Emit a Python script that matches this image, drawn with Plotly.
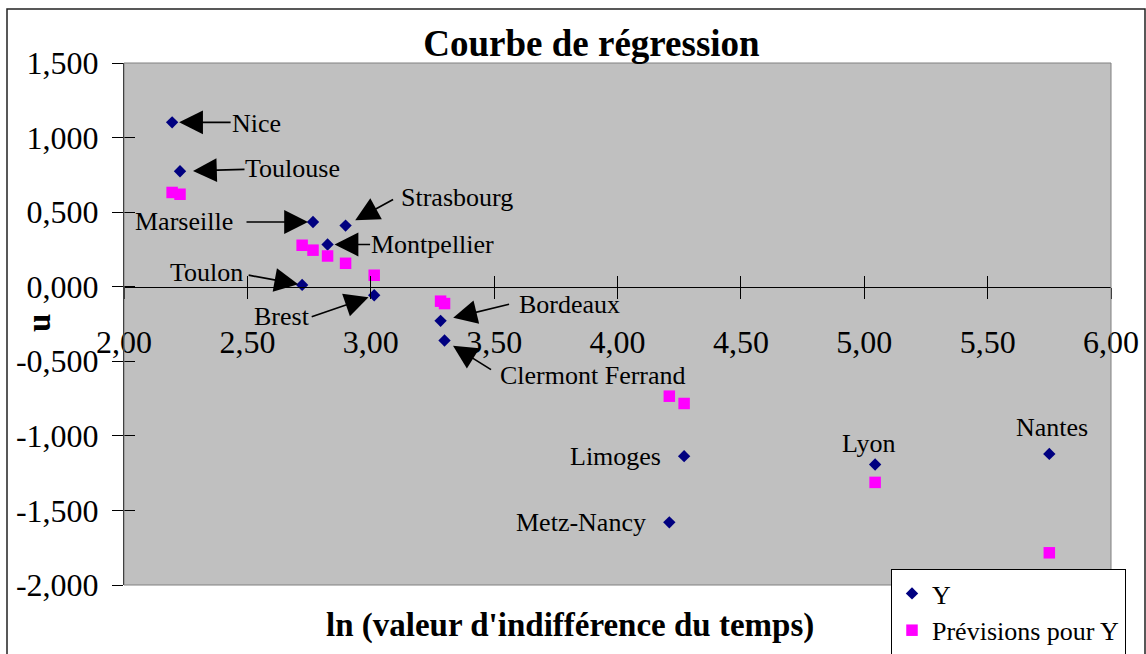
import plotly.graph_objects as go

# ---- data -------------------------------------------------------------
cities = ["Nice", "Toulouse", "Marseille", "Strasbourg", "Montpellier", "Toulon",
          "Brest", "Bordeaux", "Clermont Ferrand", "Limoges", "Metz-Nancy",
          "Lyon", "Nantes"]
ln_valeur = [2.195, 2.227, 2.766, 2.898, 2.825, 2.722, 3.014, 3.283, 3.299,
             4.270, 4.210, 5.044, 5.750]
y_obs = [1.102, 0.774, 0.434, 0.410, 0.283, 0.012, -0.057, -0.229, -0.361,
         -1.136, -1.580, -1.192, -1.121]
y_prev = [0.632, 0.620, 0.245, 0.157, 0.206, 0.278, 0.077, -0.097, -0.113,
          -0.783, -0.734, -1.312, -1.784]

x_tick_vals = [2.0, 2.5, 3.0, 3.5, 4.0, 4.5, 5.0, 5.5, 6.0]
x_tick_text = ["2,00", "2,50", "3,00", "3,50", "4,00", "4,50", "5,00", "5,50", "6,00"]
y_tick_vals = [-2.0, -1.5, -1.0, -0.5, 0.0, 0.5, 1.0, 1.5]
y_tick_text = ["-2,000", "-1,500", "-1,000", "-0,500", "0,000", "0,500", "1,000", "1,500"]

# ---- label placement (screen-pixel offsets from each Y point) ----------
label_offsets = {
    "Nice": (84, 1), "Toulouse": (112, -3), "Marseille": (-129, 0),
    "Strasbourg": (111, -28), "Montpellier": (105, 0), "Toulon": (-96, -12),
    "Brest": (-92, 21), "Bordeaux": (129, -16), "Clermont Ferrand": (148, 35),
    "Limoges": (-69, 0), "Metz-Nancy": (-88, 0), "Lyon": (-7, -21),
    "Nantes": (3, -26),
}
# arrow tail offset and standoff
arrow_specs = {
    "Nice": (60, 0, 7), "Toulouse": (66, -2, 13), "Marseille": (-68, 0, 5),
    "Strasbourg": (49, -27, 11), "Montpellier": (44, 0, 7),
    "Toulon": (-55, -10, 4), "Brest": (-64, 22, 6), "Bordeaux": (70, -17, 13),
    "Clermont Ferrand": (48, 30, 10),
}

SERIF = "Liberation Serif"
W, H = 1146, 654
ML, MR, MT, MB = 124, 35, 63, 69
PW, PH = W - ML - MR, H - MT - MB


def px_x(p):
    return (p - ML) / PW


def px_y(p):
    return (H - MB - p) / PH


fig = go.Figure()

fig.add_trace(go.Scatter(
    x=ln_valeur, y=y_obs, mode="markers", name="Y",
    marker=dict(symbol="diamond", color="#000080", size=9.5, line=dict(width=0)),
))
fig.add_trace(go.Scatter(
    x=ln_valeur, y=y_prev, mode="markers", name="Prévisions pour Y",
    marker=dict(symbol="square", color="#FF00FF", size=11.5, line=dict(width=0)),
))
# empty traces so the helper axes (cross ticks, axis at y = 0) get drawn
for xa, ya in (("x2", "y"), ("x3", "y"), ("x", "y2")):
    fig.add_trace(go.Scatter(x=[], y=[], xaxis=xa, yaxis=ya, showlegend=False,
                             hoverinfo="skip"))

annotations = []
for name, xv, yv in zip(cities, ln_valeur, y_obs):
    dx, dy = label_offsets[name]
    annotations.append(dict(
        x=xv, y=yv, xref="x", yref="y", text=name, showarrow=False,
        xshift=dx, yshift=-dy, xanchor="center", yanchor="middle",
        font=dict(family=SERIF, size=26, color="black"),
    ))
    if name in arrow_specs:
        ax, ay, so = arrow_specs[name]
        annotations.append(dict(
            x=xv, y=yv, xref="x", yref="y", text="", showarrow=True,
            ax=ax, ay=ay, axref="pixel", ayref="pixel",
            arrowhead=2, arrowsize=2.8, arrowwidth=1.7, arrowcolor="black",
            standoff=so,
        ))

# axis titles
annotations.append(dict(
    x=px_x(570), y=px_y(625), xref="paper", yref="paper",
    text="<b>ln (valeur d'indifférence du temps)</b>", showarrow=False,
    xanchor="center", yanchor="middle",
    font=dict(family=SERIF, size=33, color="black"),
))
annotations.append(dict(
    x=px_x(39), y=px_y(323), xref="paper", yref="paper",
    text="<b>u</b>", showarrow=False, textangle=-90,
    xanchor="center", yanchor="middle",
    font=dict(family=SERIF, size=33, color="black"),
))

shapes = [
    # plot area frame
    dict(type="rect", xref="paper", yref="paper", x0=0, x1=1, y0=0, y1=1,
         line=dict(color="#808080", width=1), layer="above"),
    # outer chart frame
    dict(type="rect", xref="paper", yref="paper",
         x0=px_x(7), x1=px_x(1145), y0=px_y(700), y1=px_y(9),
         line=dict(color="#222222", width=1.5), layer="above"),
]

tick_font = dict(family=SERIF, size=32, color="black")
zero_pos = (0 - (-2.0)) / 3.5

fig.update_layout(
    width=W, height=H,
    margin=dict(l=ML, r=MR, t=MT, b=MB, autoexpand=False),
    paper_bgcolor="white", plot_bgcolor="#C0C0C0",
    title=dict(text="<b>Courbe de régression</b>", xref="paper", x=px_x(591.5),
               xanchor="center", yref="container", y=1 - 43 / H, yanchor="middle",
               font=dict(family=SERIF, size=37, color="black")),
    showlegend=True,
    legend=dict(x=px_x(891), y=px_y(569), xanchor="left", yanchor="top",
                bgcolor="white", bordercolor="black", borderwidth=1,
                font=dict(family=SERIF, size=26, color="black")),
    xaxis=dict(range=[2, 6], showticklabels=False, ticks="", showline=False,
               showgrid=False, zeroline=False),
    xaxis2=dict(overlaying="x", anchor="free", position=zero_pos, range=[2, 6],
                tickvals=x_tick_vals, ticktext=x_tick_text, ticks="outside",
                ticklen=11, tickcolor="black", showline=True, linecolor="black",
                linewidth=1, showgrid=False, zeroline=False, tickfont=tick_font,
                ticklabelstandoff=16),
    xaxis3=dict(overlaying="x", anchor="free", position=zero_pos, range=[2, 6],
                tickvals=x_tick_vals, ticks="inside", ticklen=11,
                tickcolor="black", showticklabels=False, showline=False,
                showgrid=False, zeroline=False),
    yaxis=dict(range=[-2, 1.5], tickvals=y_tick_vals, ticktext=y_tick_text,
               ticks="outside", ticklen=11, tickcolor="black", showline=True,
               linecolor="black", linewidth=1, showgrid=False, zeroline=False,
               tickfont=tick_font, ticklabelstandoff=7),
    yaxis2=dict(overlaying="y", anchor="x", side="left", range=[-2, 1.5],
                tickvals=y_tick_vals, ticks="inside", ticklen=11,
                tickcolor="black", showticklabels=False, showline=False,
                showgrid=False, zeroline=False),
    annotations=annotations,
    shapes=shapes,
)

fig.write_html("out.html")
